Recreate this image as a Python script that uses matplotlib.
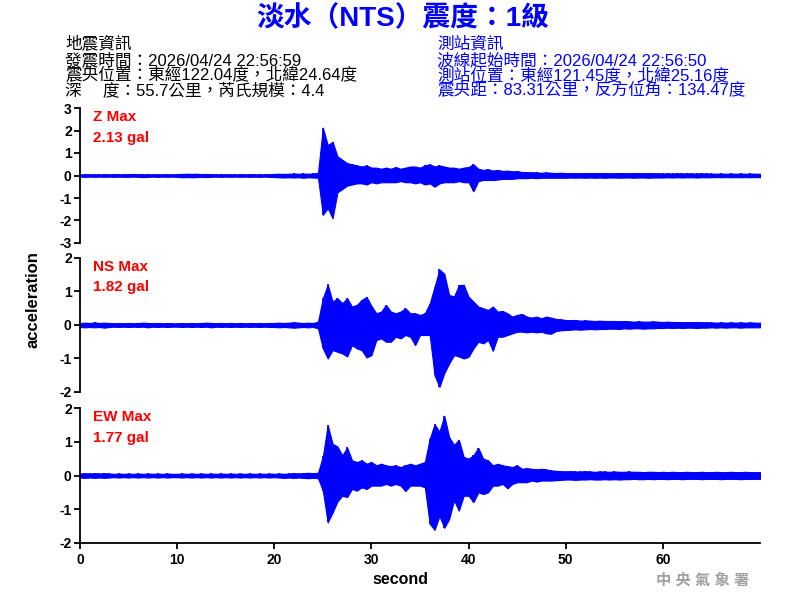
import matplotlib
matplotlib.use('Agg')
import matplotlib.pyplot as plt
import numpy as np

plt.rcParams['font.family'] = ['Liberation Sans', 'Noto Sans CJK TC', 'DejaVu Sans']
plt.rcParams['font.weight'] = 'bold'
plt.rcParams['axes.unicode_minus'] = False

# sample times (s), peak envelope every 0.5 s
t = np.arange(141) * 0.5

z_up = [0.05, 0.06, 0.05, 0.06, 0.05, 0.06, 0.05, 0.06, 0.05, 0.06,
        0.06, 0.07, 0.06, 0.05, 0.06, 0.05, 0.06, 0.05, 0.06, 0.05,
        0.06, 0.07, 0.08, 0.07, 0.08, 0.06, 0.07, 0.06, 0.05, 0.06,
        0.05, 0.06, 0.05, 0.06, 0.05, 0.06, 0.05, 0.06, 0.05, 0.06,
        0.07, 0.08, 0.07, 0.08, 0.09, 0.08, 0.09, 0.08, 0.09, 0.12,
        2.13, 1.35, 1.50, 0.85, 0.70, 0.55, 0.50, 0.45, 0.40, 0.45,
        0.35, 0.35, 0.30, 0.35, 0.30, 0.38, 0.30, 0.35, 0.40, 0.40,
        0.35, 0.45, 0.50, 0.40, 0.45, 0.40, 0.35, 0.35, 0.30, 0.35,
        0.38, 0.50, 0.30, 0.25, 0.28, 0.22, 0.25, 0.20, 0.22, 0.18,
        0.20, 0.15, 0.15, 0.14, 0.14, 0.12, 0.14, 0.12, 0.11, 0.12,
        0.11, 0.10, 0.11, 0.10, 0.11, 0.10, 0.11, 0.10, 0.11, 0.10,
        0.10, 0.11, 0.10, 0.10, 0.11, 0.10, 0.10, 0.11, 0.10, 0.10,
        0.09, 0.10, 0.09, 0.10, 0.09, 0.10, 0.09, 0.09, 0.10, 0.09,
        0.09, 0.08, 0.09, 0.08, 0.09, 0.08, 0.09, 0.08, 0.09, 0.08,
        0.08]
z_lo = [-0.05, -0.06, -0.05, -0.06, -0.05, -0.06, -0.05, -0.06, -0.05, -0.06,
        -0.06, -0.05, -0.06, -0.07, -0.06, -0.05, -0.06, -0.05, -0.06, -0.05,
        -0.06, -0.08, -0.07, -0.08, -0.07, -0.06, -0.07, -0.06, -0.05, -0.06,
        -0.05, -0.06, -0.05, -0.06, -0.05, -0.06, -0.05, -0.06, -0.05, -0.06,
        -0.07, -0.08, -0.09, -0.08, -0.09, -0.08, -0.10, -0.08, -0.09, -0.10,
        -1.75, -1.45, -1.90, -0.75, -0.60, -0.45, -0.40, -0.35, -0.35, -0.40,
        -0.30, -0.35, -0.30, -0.30, -0.30, -0.30, -0.25, -0.30, -0.30, -0.35,
        -0.30, -0.40, -0.35, -0.50, -0.35, -0.30, -0.30, -0.30, -0.25, -0.30,
        -0.30, -0.70, -0.25, -0.20, -0.20, -0.20, -0.18, -0.15, -0.15, -0.15,
        -0.12, -0.12, -0.12, -0.10, -0.12, -0.10, -0.10, -0.10, -0.10, -0.10,
        -0.10, -0.09, -0.10, -0.09, -0.10, -0.09, -0.10, -0.09, -0.10, -0.09,
        -0.09, -0.10, -0.09, -0.09, -0.10, -0.09, -0.09, -0.10, -0.09, -0.09,
        -0.09, -0.08, -0.09, -0.08, -0.09, -0.08, -0.08, -0.09, -0.08, -0.08,
        -0.08, -0.07, -0.08, -0.07, -0.08, -0.07, -0.08, -0.07, -0.08, -0.07,
        -0.08]

ns_up = [0.06, 0.07, 0.06, 0.08, 0.06, 0.07, 0.06, 0.05, 0.06, 0.05,
         0.06, 0.05, 0.06, 0.07, 0.06, 0.05, 0.06, 0.05, 0.06, 0.05,
         0.05, 0.06, 0.05, 0.06, 0.05, 0.06, 0.07, 0.06, 0.05, 0.06,
         0.05, 0.06, 0.05, 0.06, 0.05, 0.06, 0.05, 0.06, 0.05, 0.06,
         0.06, 0.07, 0.06, 0.07, 0.08, 0.07, 0.06, 0.07, 0.06, 0.10,
         0.80, 1.21, 0.70, 0.80, 0.65, 0.80, 0.55, 0.60, 0.75, 0.84,
         0.57, 0.35, 0.40, 0.60, 0.40, 0.35, 0.40, 0.50, 0.35, 0.35,
         0.30, 0.35, 0.64, 1.14, 1.66, 1.53, 0.90, 0.85, 1.19, 1.20,
         0.84, 0.70, 0.55, 0.50, 0.45, 0.55, 0.40, 0.42, 0.35, 0.25,
         0.30, 0.33, 0.25, 0.22, 0.25, 0.20, 0.25, 0.22, 0.18, 0.17,
         0.15, 0.14, 0.15, 0.13, 0.14, 0.13, 0.12, 0.13, 0.12, 0.12,
         0.12, 0.11, 0.12, 0.11, 0.10, 0.11, 0.10, 0.10, 0.11, 0.10,
         0.09, 0.10, 0.09, 0.09, 0.08, 0.09, 0.08, 0.09, 0.08, 0.08,
         0.08, 0.07, 0.08, 0.07, 0.08, 0.07, 0.08, 0.07, 0.08, 0.07,
         0.07]
ns_lo = [-0.06, -0.07, -0.06, -0.07, -0.06, -0.08, -0.06, -0.05, -0.06, -0.05,
         -0.06, -0.05, -0.06, -0.05, -0.07, -0.05, -0.06, -0.05, -0.06, -0.05,
         -0.05, -0.06, -0.05, -0.06, -0.05, -0.06, -0.05, -0.07, -0.05, -0.06,
         -0.05, -0.06, -0.05, -0.06, -0.05, -0.06, -0.05, -0.06, -0.05, -0.06,
         -0.06, -0.07, -0.06, -0.07, -0.08, -0.07, -0.06, -0.07, -0.06, -0.10,
         -0.70, -1.00, -0.75, -0.80, -0.85, -0.94, -0.60, -0.70, -0.75, -0.97,
         -0.90, -0.45, -0.40, -0.50, -0.50, -0.35, -0.40, -0.30, -0.35, -0.60,
         -0.30, -0.30, -0.30, -1.50, -1.85, -1.44, -1.15, -0.90, -0.94, -1.00,
         -0.95, -0.70, -0.50, -0.55, -0.45, -0.77, -0.35, -0.35, -0.30, -0.25,
         -0.20, -0.20, -0.22, -0.20, -0.22, -0.20, -0.25, -0.26, -0.18, -0.16,
         -0.15, -0.14, -0.13, -0.14, -0.13, -0.12, -0.13, -0.12, -0.12, -0.11,
         -0.11, -0.12, -0.10, -0.11, -0.10, -0.10, -0.11, -0.10, -0.10, -0.09,
         -0.09, -0.08, -0.09, -0.08, -0.09, -0.08, -0.08, -0.09, -0.08, -0.08,
         -0.07, -0.08, -0.07, -0.08, -0.07, -0.07, -0.08, -0.07, -0.07, -0.07,
         -0.07]

ew_up = [0.06, 0.07, 0.06, 0.07, 0.06, 0.07, 0.06, 0.05, 0.06, 0.05,
         0.06, 0.05, 0.06, 0.05, 0.06, 0.05, 0.06, 0.05, 0.06, 0.05,
         0.05, 0.06, 0.05, 0.06, 0.05, 0.06, 0.05, 0.06, 0.05, 0.06,
         0.05, 0.06, 0.05, 0.06, 0.05, 0.06, 0.05, 0.06, 0.05, 0.06,
         0.05, 0.06, 0.05, 0.06, 0.07, 0.06, 0.07, 0.08, 0.07, 0.08,
         0.57, 1.49, 0.94, 0.86, 0.60, 0.83, 0.45, 0.40, 0.45, 0.35,
         0.40, 0.30, 0.35, 0.30, 0.28, 0.30, 0.25, 0.30, 0.35, 0.30,
         0.35, 0.40, 1.09, 1.52, 1.30, 1.77, 1.14, 0.91, 1.06, 0.55,
         0.50, 0.60, 0.82, 0.50, 0.45, 0.30, 0.35, 0.30, 0.28, 0.25,
         0.30, 0.20, 0.22, 0.20, 0.18, 0.20, 0.18, 0.15, 0.14, 0.13,
         0.12, 0.13, 0.12, 0.12, 0.13, 0.12, 0.11, 0.12, 0.12, 0.11,
         0.12, 0.11, 0.11, 0.12, 0.11, 0.11, 0.10, 0.11, 0.11, 0.10,
         0.11, 0.10, 0.11, 0.10, 0.10, 0.11, 0.10, 0.10, 0.11, 0.10,
         0.10, 0.11, 0.10, 0.10, 0.11, 0.10, 0.10, 0.11, 0.10, 0.10,
         0.10]
ew_lo = [-0.06, -0.07, -0.06, -0.07, -0.06, -0.07, -0.06, -0.05, -0.06, -0.05,
         -0.06, -0.05, -0.06, -0.05, -0.06, -0.05, -0.06, -0.05, -0.06, -0.05,
         -0.05, -0.06, -0.05, -0.06, -0.05, -0.06, -0.05, -0.06, -0.05, -0.06,
         -0.05, -0.06, -0.05, -0.06, -0.05, -0.06, -0.05, -0.06, -0.05, -0.06,
         -0.05, -0.06, -0.07, -0.06, -0.07, -0.06, -0.07, -0.08, -0.07, -0.08,
         -0.45, -1.39, -1.10, -0.77, -0.60, -0.64, -0.40, -0.45, -0.35, -0.40,
         -0.30, -0.30, -0.30, -0.25, -0.30, -0.25, -0.30, -0.46, -0.30, -0.30,
         -0.30, -0.35, -1.43, -1.61, -1.20, -1.55, -1.29, -0.74, -1.04, -0.60,
         -0.60, -0.79, -0.50, -0.55, -0.50, -0.30, -0.30, -0.25, -0.38, -0.25,
         -0.20, -0.20, -0.20, -0.15, -0.18, -0.15, -0.15, -0.15, -0.14, -0.13,
         -0.12, -0.12, -0.13, -0.12, -0.12, -0.11, -0.12, -0.12, -0.11, -0.12,
         -0.11, -0.12, -0.11, -0.11, -0.10, -0.11, -0.11, -0.10, -0.11, -0.10,
         -0.10, -0.11, -0.10, -0.10, -0.11, -0.10, -0.10, -0.10, -0.11, -0.10,
         -0.10, -0.10, -0.11, -0.10, -0.10, -0.10, -0.11, -0.10, -0.10, -0.10,
         -0.10]

names = ['Z Max', 'NS Max', 'EW Max']
max_gal = ['2.13 gal', '1.82 gal', '1.77 gal']
ylims = [(-3, 3), (-2, 2), (-2, 2)]

title = '淡水（NTS）震度：1級'
quake_info = ['地震資訊', '發震時間：2026/04/24 22:56:59',
              '震央位置：東經122.04度，北緯24.64度', '深\u3000 度：55.7公里，芮氏規模：4.4']
station_info = ['測站資訊', '波線起始時間：2026/04/24 22:56:50',
                '測站位置：東經121.45度，北緯25.16度', '震央距：83.31公里，反方位角：134.47度']

fig = plt.figure(figsize=(8, 6), dpi=100)

boxes = [(0.1, 0.595, 0.85, 0.225),
         (0.1, 0.3467, 0.85, 0.2233),
         (0.1, 0.095, 0.85, 0.225)]
series = [(z_up, z_lo), (ns_up, ns_lo), (ew_up, ew_lo)]

for i, (box, (up, lo)) in enumerate(zip(boxes, series)):
    ax = fig.add_axes(box)
    # solid band between the read peaks, plus a spike at every sample
    ax.fill_between(t, lo, up, color='#0000ff', lw=0.8)
    ax.vlines(t, lo, up, color='#0000ff', lw=1.2)
    ax.set_xlim(0, 70)
    ax.set_ylim(*ylims[i])
    ax.set_yticks(range(ylims[i][0], ylims[i][1] + 1))
    for s in ['top', 'right']:
        ax.spines[s].set_visible(False)
    ax.spines['left'].set_linewidth(1.3)
    ax.tick_params(axis='y', direction='out', length=4, width=1.3, labelsize=10, pad=2)
    if i < 2:
        ax.spines['bottom'].set_visible(False)
        ax.set_xticks([])
    else:
        ax.spines['bottom'].set_linewidth(1.3)
        ax.set_xticks(range(0, 70, 10))
        ax.tick_params(axis='x', direction='out', length=4, width=1.3, labelsize=10, pad=3)
    ax.text(0.019, 0.93, names[i], transform=ax.transAxes, color='red',
            fontsize=11, fontweight='bold', va='center', ha='left')
    ax.text(0.019, 0.78, max_gal[i], transform=ax.transAxes, color='red',
            fontsize=11, fontweight='bold', va='center', ha='left')

fig.text(0.503, 1 - 19 / 600, title, ha='center', va='center', fontsize=20,
         color='#0000ff', fontweight='bold')

rows_y = [44, 60, 75, 90]
for line, y in zip(quake_info, rows_y):
    fig.text(65 / 800, 1 - y / 600, line, ha='left', va='center', fontsize=12,
             fontweight='normal', color='black')
for line, y in zip(station_info, rows_y):
    fig.text(437 / 800, 1 - y / 600, line, ha='left', va='center', fontsize=12,
             fontweight='normal', color='#0000ff')

fig.text(0.041, 0.5, 'acceleration', rotation=90, ha='center', va='center',
         fontsize=12, fontweight='bold')
fig.text(0.5, 1 - 580 / 600, 'second', ha='center', va='center',
         fontsize=11.5, fontweight='bold')
fig.text(703 / 800, 1 - 580 / 600, '中 央 氣 象 署', ha='center', va='center',
         fontsize=11, fontweight='bold', color='#a0a0a0')

fig.savefig('out.png', dpi=100)
